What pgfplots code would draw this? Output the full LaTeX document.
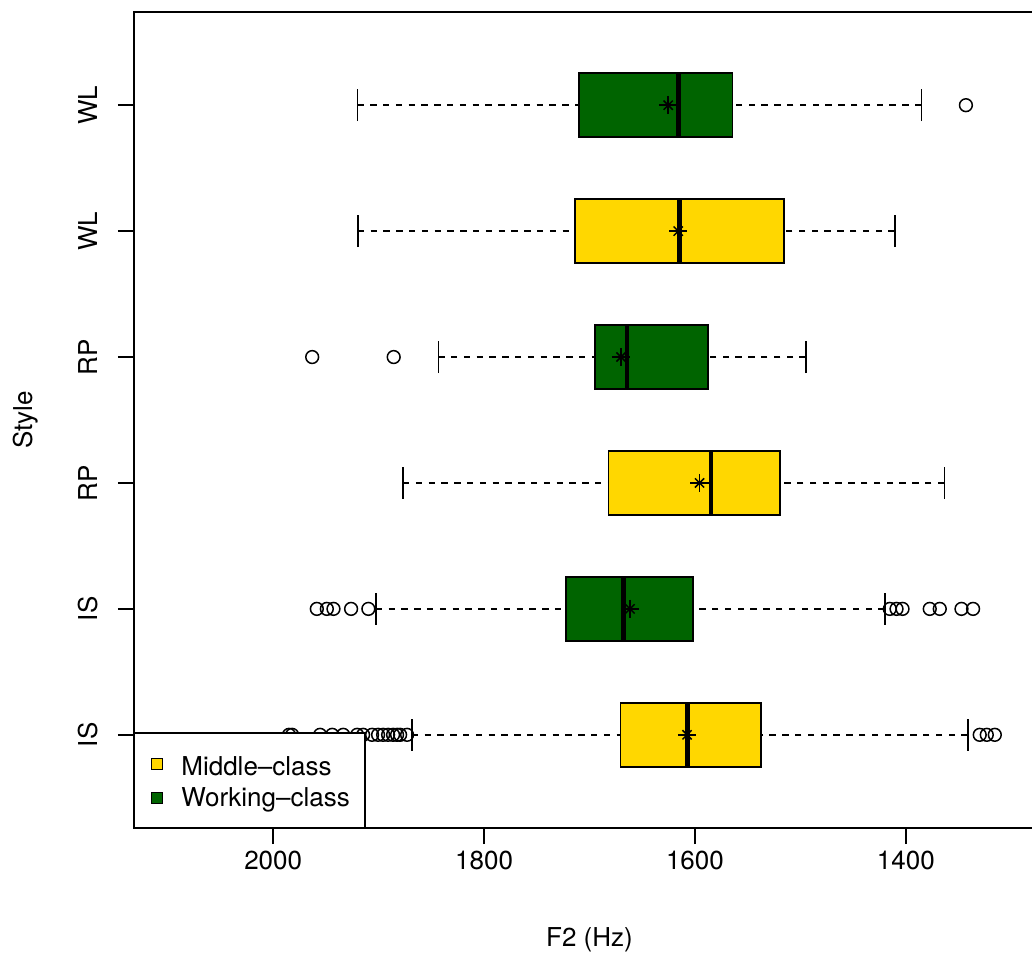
\documentclass[border=0pt]{standalone}
\usepackage{fontspec}
\setmainfont{TeX Gyre Heros}
\usepackage{pgfplots}
\pgfplotsset{compat=1.18}
\usepgfplotslibrary{statistics}
\usetikzlibrary{calc}
\definecolor{mcgold}{HTML}{FFD700}
\definecolor{wcgreen}{HTML}{006400}
\pgfplotsset{
  rbox/.style={
    boxplot/draw direction=x,
    boxplot/box extend=0.508,
    boxplot/whisker extend=0.254,
    boxplot/draw/box/.code={\draw[line width=0.75bp, draw=black, fill=#1]
      (boxplot box cs:\pgfplotsboxplotvalue{lower quartile},0) rectangle
      (boxplot box cs:\pgfplotsboxplotvalue{upper quartile},1);},
    boxplot/draw/median/.code={\draw[line width=2.3bp, black]
      (boxplot box cs:\pgfplotsboxplotvalue{median},0) --
      (boxplot box cs:\pgfplotsboxplotvalue{median},1);},
    boxplot/draw/lower whisker/.code={%
      \draw[line width=0.75bp, black, dash pattern=on 3.2bp off 3.2bp]
        (boxplot cs:\pgfplotsboxplotvalue{lower whisker}) --
        (boxplot cs:\pgfplotsboxplotvalue{lower quartile});
      \draw[line width=0.75bp, black]
        (boxplot whisker cs:\pgfplotsboxplotvalue{lower whisker},0) --
        (boxplot whisker cs:\pgfplotsboxplotvalue{lower whisker},1);},
    boxplot/draw/upper whisker/.code={%
      \draw[line width=0.75bp, black, dash pattern=on 3.2bp off 3.2bp]
        (boxplot cs:\pgfplotsboxplotvalue{upper whisker}) --
        (boxplot cs:\pgfplotsboxplotvalue{upper quartile});
      \draw[line width=0.75bp, black]
        (boxplot whisker cs:\pgfplotsboxplotvalue{upper whisker},0) --
        (boxplot whisker cs:\pgfplotsboxplotvalue{upper whisker},1);},
  },
  outl/.style={only marks, mark=o, mark size=3.2bp, mark options={line width=0.75bp, black}},
}
\begin{document}
\begin{tikzpicture}[font=\fontsize{13bp}{15.6bp}\selectfont]
\begin{axis}[
  scale only axis, width=455.5bp, height=408bp,
  x dir=reverse, xmin=1268, xmax=2132, ymin=0.26, ymax=6.74,
  axis line style={line width=0.75bp, black},
  xtick={1400,1600,1800,2000}, ytick={1,2,3,4,5,6},
  yticklabels={IS,IS,RP,RP,WL,WL},
  xtick pos=bottom, ytick pos=left,
  tick align=outside, major tick length=8bp,
  tick style={line width=0.75bp, black},
  minor tick num=0,
  /pgf/number format/assume math mode=true,
  /pgf/number format/1000 sep={},
  yticklabel style={rotate=90, anchor=south, inner sep=9.8bp},
  xlabel={F2 (Hz)}, ylabel={Style},
  xlabel style={at={(axis description cs:0.5,0)}, anchor=center, yshift=-56bp},
  ylabel style={at={(axis description cs:-0.1185,0.5)}, anchor=center},
]
% Middle-class IS
\addplot[rbox=mcgold, boxplot prepared={draw position=1, lower whisker=1341.2, lower quartile=1537.4, median=1606.9, upper quartile=1670.8, upper whisker=1868.5}] coordinates {};
% Working-class IS
\addplot[rbox=wcgreen, boxplot prepared={draw position=2, lower whisker=1419.9, lower quartile=1601.6, median=1668, upper quartile=1722.3, upper whisker=1902.7}] coordinates {};
% Middle-class RP
\addplot[rbox=mcgold, boxplot prepared={draw position=3, lower whisker=1363.5, lower quartile=1519.1, median=1584.8, upper quartile=1682, upper whisker=1876.8}] coordinates {};
% Working-class RP
\addplot[rbox=wcgreen, boxplot prepared={draw position=4, lower whisker=1494.8, lower quartile=1587.8, median=1664.5, upper quartile=1694.8, upper whisker=1843.4}] coordinates {};
% Middle-class WL
\addplot[rbox=mcgold, boxplot prepared={draw position=5, lower whisker=1410.4, lower quartile=1515.4, median=1614.9, upper quartile=1713.7, upper whisker=1919.7}] coordinates {};
% Working-class WL
\addplot[rbox=wcgreen, boxplot prepared={draw position=6, lower whisker=1385.3, lower quartile=1564.2, median=1615.5, upper quartile=1710, upper whisker=1920.1}] coordinates {};
% outliers
\addplot[outl] coordinates {(1985,1) (1982,1) (1955.5,1) (1944,1) (1933.6,1) (1920.4,1) (1914.7,1) (1906.2,1) (1900.5,1) (1895.7,1) (1891,1) (1886.3,1) (1882.5,1) (1879.6,1) (1873,1) (1329.9,1) (1323.2,1) (1315.6,1)};
\addplot[outl] coordinates {(1958.6,2) (1949.1,2) (1942.8,2) (1926.1,2) (1909.7,2) (1415.2,2) (1408.8,2) (1403.1,2) (1377.3,2) (1367.8,2) (1347.2,2) (1336.2,2)};
\addplot[outl] coordinates {(1963,4) (1885.7,4)};
\addplot[outl] coordinates {(1343,6)};
% means
\addplot[only marks, mark=+, mark size=4.6bp, mark options={line width=0.75bp, black}] coordinates {(1607.5,1) (1661.6,2) (1595.6,3) (1670.1,4) (1615.8,5) (1625.4,6)};
\addplot[only marks, mark=x, mark size=3.25bp, mark options={line width=0.75bp, black}] coordinates {(1607.5,1) (1661.6,2) (1595.6,3) (1670.1,4) (1615.8,5) (1625.4,6)};
\end{axis}
% legend
\draw[line width=0.75bp, fill=white] (current axis.south west) rectangle ++(115.5bp,47.5bp);
\draw[line width=0.6bp, fill=mcgold] ($(current axis.south west)+(11.5bp,32bp)$) +(-2.75bp,-2.75bp) rectangle +(2.75bp,2.75bp);
\draw[line width=0.6bp, fill=wcgreen] ($(current axis.south west)+(11.5bp,15bp)$) +(-2.75bp,-2.75bp) rectangle +(2.75bp,2.75bp);
\node[anchor=base west, inner sep=0pt] at ($(current axis.south west)+(23.5bp,26.3bp)$) {Middle--class};
\node[anchor=base west, inner sep=0pt] at ($(current axis.south west)+(23.5bp,10.8bp)$) {Working--class};
\pgfresetboundingbox
\useasboundingbox ($(current axis.south west)+(-67bp,-63.5bp)$) rectangle ($(current axis.south west)+(449bp,414bp)$);
\end{tikzpicture}
\end{document}
